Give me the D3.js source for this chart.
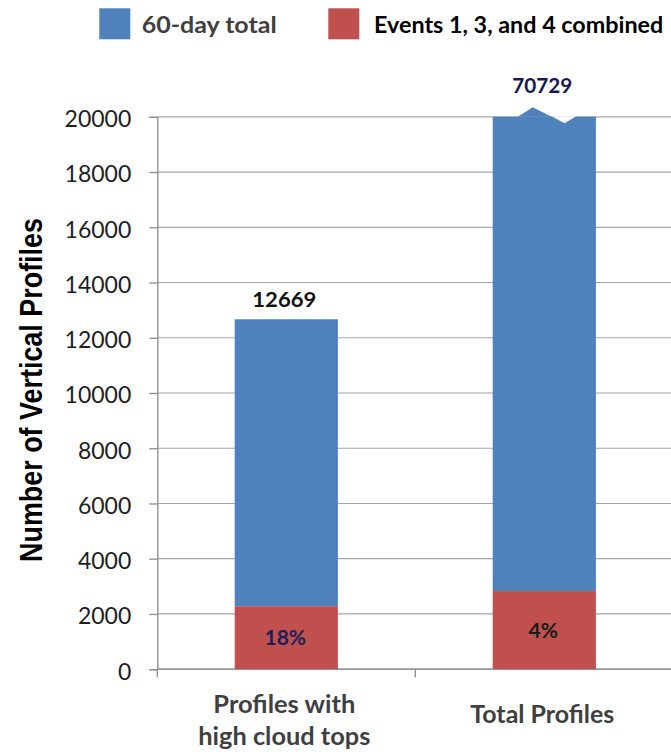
<!DOCTYPE html>
<html>
<head>
<meta charset="utf-8">
<script src="https://cdn.jsdelivr.net/npm/d3@7"></script>
<style>
  html, body { margin: 0; padding: 0; background: #fff; }
  svg { display: block; }
  text { font-family: Lato, "Open Sans", sans-serif; }
</style>
</head>
<body>
<div id="chart"></div>
<script>
// Vertical profile counts: 60-day totals and the share from events 1, 3 and 4
const categories = [["Profiles with", "high cloud tops"], ["Total Profiles"]];
const categoryKeys = ["high", "total"];
const totalValues = [12669, 70729];
const eventShares = [0.18, 0.04];
const shareLabels = ["18%", "4%"];
const yTicks = [0, 2000, 4000, 6000, 8000, 10000, 12000, 14000, 16000, 18000, 20000];
const seriesNames = ["60-day total", "Events 1, 3, and 4 combined"];

const W = 671, H = 752;
const BLUE = "#4f81bd", RED = "#c0504d";

const svg = d3.select("#chart").append("svg")
  .attr("width", W).attr("height", H);

const x = d3.scaleBand().domain(categoryKeys).range([157.3, 673.3]).padding(0);
const y = d3.scaleLinear().domain([0, 20000]).range([669.2, 116.8]);
const barW = x.bandwidth() / 2.5;
const barX = k => x(k) + (x.bandwidth() - barW) / 2;
const yMax = y.domain()[1];

// gridlines
svg.append("g").selectAll("line").data(yTicks).join("line")
  .attr("x1", x.range()[0]).attr("x2", x.range()[1])
  .attr("y1", d => y(d)).attr("y2", d => y(d))
  .attr("stroke", "#a6a6a6").attr("stroke-width", 1.2);

// y axis
const yAxis = svg.append("g")
  .attr("transform", `translate(${x.range()[0]},0)`)
  .call(d3.axisLeft(y).tickValues(yTicks).tickSize(8).tickPadding(18).tickFormat(d3.format("d")));
yAxis.select(".domain").attr("stroke", "#8c8c8c").attr("stroke-width", 1.3);
yAxis.selectAll(".tick line").attr("stroke", "#8c8c8c").attr("stroke-width", 1.3);
yAxis.selectAll(".tick text")
  .attr("dy", "0.43em")
  .style("font-family", "Lato, sans-serif")
  .style("font-size", "23px")
  .attr("fill", "#1e1e1e");

// x axis line and category separators
const xAxisG = svg.append("g");
xAxisG.append("line")
  .attr("x1", x.range()[0]).attr("x2", x.range()[1])
  .attr("y1", y(0)).attr("y2", y(0))
  .attr("stroke", "#8c8c8c").attr("stroke-width", 1.3);
const boundaries = [x(categoryKeys[0])].concat(categoryKeys.map(k => x(k) + x.bandwidth()));
xAxisG.selectAll("line.tk").data(boundaries).join("line").attr("class", "tk")
  .attr("x1", d => d).attr("x2", d => d)
  .attr("y1", y(0)).attr("y2", y(0) + 8)
  .attr("stroke", "#8c8c8c").attr("stroke-width", 1.3);

// stacked bars
const rows = categoryKeys.map((k, i) => ({
  key: k,
  total: totalValues[i],
  events: totalValues[i] * eventShares[i],
  share: shareLabels[i]
}));

const bars = svg.append("g");
bars.selectAll("rect.total").data(rows).join("rect").attr("class", "total")
  .attr("x", d => barX(d.key)).attr("width", barW)
  .attr("y", d => y(Math.min(d.total, yMax)))
  .attr("height", d => y(d.events) - y(Math.min(d.total, yMax)))
  .attr("fill", BLUE);
bars.selectAll("rect.events").data(rows).join("rect").attr("class", "events")
  .attr("x", d => barX(d.key)).attr("width", barW)
  .attr("y", d => y(d.events))
  .attr("height", d => y(0) - y(d.events))
  .attr("fill", RED);

// broken top for bars that run past the axis maximum
const clipped = rows.filter(d => d.total > yMax);
clipped.forEach(d => {
  const x0 = barX(d.key), t = y(yMax);
  const a = x0 + barW * 0.243, p = x0 + barW * 0.388, m = x0 + barW * 0.571,
        v = x0 + barW * 0.696, b = x0 + barW * 0.809;
  bars.append("path")
    .attr("d", `M${a},${t}L${p},${t - 9.5}L${m},${t}Z`)
    .attr("fill", BLUE);
  bars.append("path")
    .attr("d", `M${m},${t - 0.6}L${v},${t + 6.5}L${b},${t - 0.6}Z`)
    .attr("fill", "#fff");
});

// total labels above bars
const totalColors = ["#111111", "#16184e"];
svg.append("g").selectAll("text").data(rows).join("text")
  .attr("x", d => barX(d.key) + barW / 2 - 2)
  .attr("y", d => y(Math.min(d.total, yMax)) - (d.total > yMax ? 23.5 : 12))
  .attr("text-anchor", "middle")
  .attr("textLength", (d, i) => i === 0 ? 64 : 60)
  .attr("lengthAdjust", "spacingAndGlyphs")
  .style("font-size", "20px").style("font-weight", "700")
  .attr("fill", (d, i) => totalColors[i])
  .text(d => d3.format("d")(d.total));

// share labels inside the event segments
const shareColors = ["#1a1f5c", "#1a1a1a"];
svg.append("g").selectAll("text").data(rows).join("text")
  .attr("x", d => barX(d.key) + barW / 2 - 1)
  .attr("y", d => (y(d.events) + y(0)) / 2 + 7.5)
  .attr("text-anchor", "middle")
  .style("font-size", "21px").style("font-weight", "700")
  .attr("fill", (d, i) => shareColors[i])
  .text(d => d.share);

// category labels
const catG = svg.append("g");
const catLayout = [
  { baselines: [713, 745], widths: [142, 172] },
  { baselines: [722.7], widths: [144] }
];
categoryKeys.forEach((k, i) => {
  categories[i].forEach((line, j) => {
    catG.append("text")
      .attr("x", barX(k) + barW / 2 - 2)
      .attr("y", catLayout[i].baselines[j])
      .attr("text-anchor", "middle")
      .attr("textLength", catLayout[i].widths[j])
      .attr("lengthAdjust", "spacingAndGlyphs")
      .style("font-size", "25px").style("font-weight", "700")
      .attr("fill", "#3f3f3f")
      .text(line);
  });
});

// y axis title
svg.append("text")
  .attr("transform", "translate(41.5,390) rotate(-90)")
  .attr("text-anchor", "middle")
  .attr("textLength", 344)
  .attr("lengthAdjust", "spacingAndGlyphs")
  .style("font-family", "'Liberation Sans', Arial, sans-serif")
  .style("font-size", "31px").style("font-weight", "700")
  .attr("fill", "#000")
  .text("Number of Vertical Profiles");

// legend
const legendItems = [
  { name: seriesNames[0], color: BLUE, sx: 99.3, tx: 141.7, tw: 135, tc: "#3f3f3f" },
  { name: seriesNames[1], color: RED, sx: 328.3, tx: 374, tw: 289.3, tc: "#000" }
];
const lg = svg.append("g");
legendItems.forEach(it => {
  lg.append("rect").attr("x", it.sx).attr("y", 8.3).attr("width", 31).attr("height", 31)
    .attr("fill", it.color);
  lg.append("text").attr("x", it.tx).attr("y", 33.3)
    .attr("textLength", it.tw).attr("lengthAdjust", "spacingAndGlyphs")
    .style("font-size", "23px").style("font-weight", "700")
    .attr("fill", it.tc)
    .text(it.name);
});
</script>
</body>
</html>
